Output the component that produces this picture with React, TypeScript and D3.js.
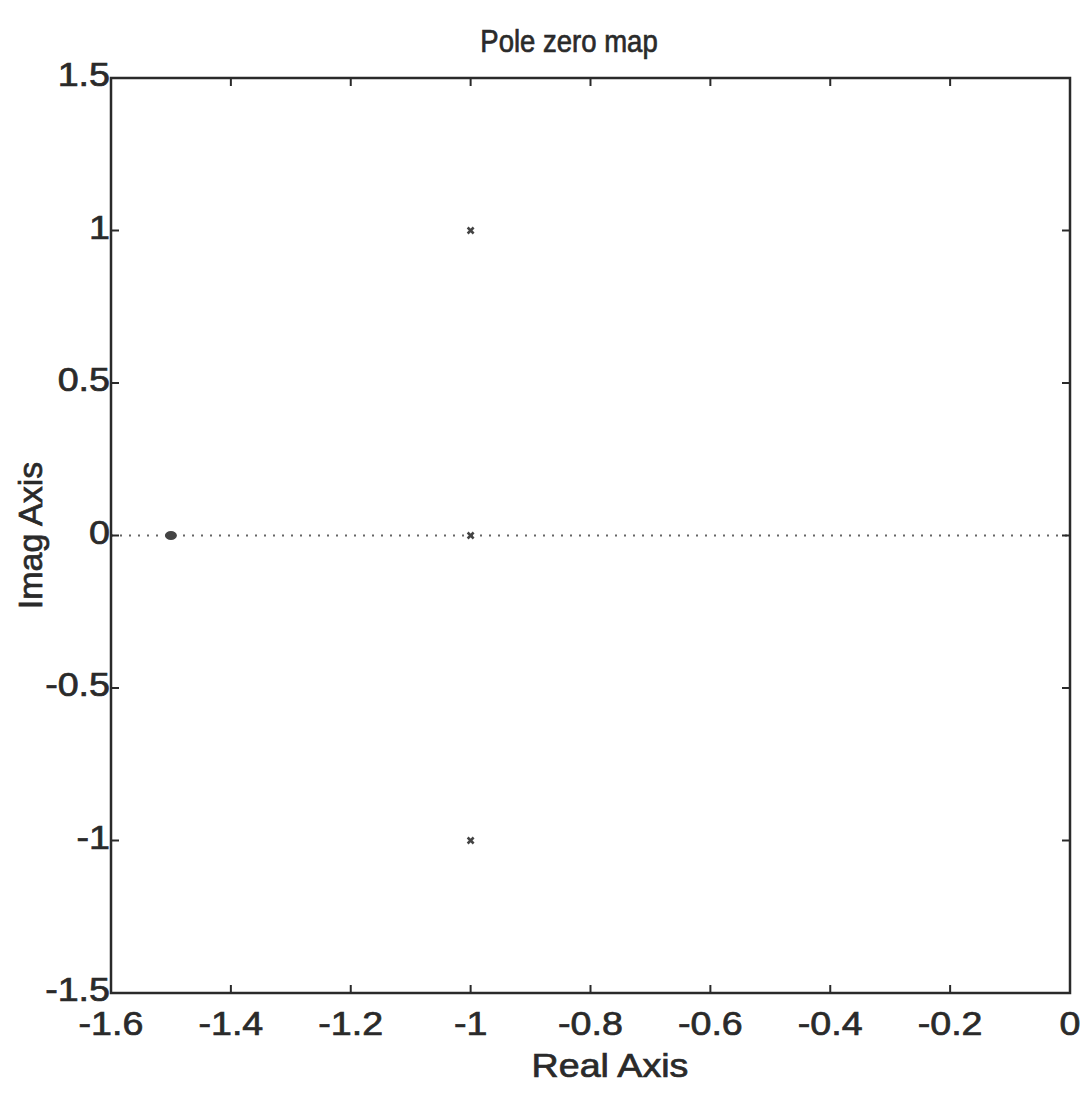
import React from "react";
import * as d3 from "d3";

const xTicks = [-1.6, -1.4, -1.2, -1, -0.8, -0.6, -0.4, -0.2, 0];
const yTicks = [1.5, 1, 0.5, 0, -0.5, -1, -1.5];
const poleRe = [-1, -1, -1];
const poleIm = [1, -1, 0];
const zeroRe = [-1.5];
const zeroIm = [0];

const W = 1084;
const H = 1094;
const M = { left: 111, right: 1070, top: 78, bottom: 993 };
const FONT = "'Liberation Sans', Arial, Helvetica, sans-serif";
const INK = "#2a2a2a";
const SX = 1.14;

function fmt(v: number) {
  if (v === 0) return "0";
  return String(v);
}

export default function App() {
  const x = d3.scaleLinear().domain([-1.6, 0]).range([M.left, M.right]);
  const y = d3.scaleLinear().domain([-1.5, 1.5]).range([M.bottom, M.top]);
  const tl = 8;
  const txt = (props: any, s: string, key?: any) => (
    <text
      key={key}
      transform={`translate(${props.x},${props.y}) scale(${props.sx ?? SX},1)`}
      textAnchor={props.anchor || "middle"}
      fontFamily={FONT}
      fontSize={props.size || 33}
      fill={INK}
      stroke={INK}
      strokeWidth={0.7}
    >
      {s}
    </text>
  );
  const pts = d3.range(zeroRe.length).map((i) => ({ re: zeroRe[i], im: zeroIm[i] }));
  const pls = d3.range(poleRe.length).map((i) => ({ re: poleRe[i], im: poleIm[i] }));
  return (
    <svg width={W} height={H} style={{ position: "absolute", left: 0, top: 0, background: "#fff" }}>
      <rect x={0} y={0} width={W} height={H} fill="#fff" />
      {/* dotted zero line */}
      <line x1={x(-1.6)} x2={x(0)} y1={y(0)} y2={y(0)} stroke="#666" strokeWidth={2} strokeDasharray="2,7" />
      {/* ticks */}
      {xTicks.map((t, i) => (
        <g key={"xt" + i}>
          <line x1={x(t)} x2={x(t)} y1={M.bottom} y2={M.bottom - tl} stroke={INK} strokeWidth={2} />
          <line x1={x(t)} x2={x(t)} y1={M.top} y2={M.top + tl} stroke={INK} strokeWidth={2} />
        </g>
      ))}
      {yTicks.map((t, i) => (
        <g key={"yt" + i}>
          <line x1={M.left} x2={M.left + tl} y1={y(t)} y2={y(t)} stroke={INK} strokeWidth={2} />
          <line x1={M.right} x2={M.right - tl} y1={y(t)} y2={y(t)} stroke={INK} strokeWidth={2} />
        </g>
      ))}
      {/* frame */}
      <rect x={M.left} y={M.top} width={M.right - M.left} height={M.bottom - M.top} fill="none" stroke={INK} strokeWidth={2.5} />
      {/* zeros */}
      {pts.map((p, i) => (
        <ellipse key={"z" + i} cx={x(p.re)} cy={y(p.im)} rx={5} ry={3.5} fill="#444" stroke="#444" strokeWidth={2} />
      ))}
      {/* poles */}
      {pls.map((p, i) => {
        const cx = x(p.re);
        const cy = y(p.im);
        const s = 3;
        return (
          <g key={"p" + i} stroke="#444" strokeWidth={2.5}>
            <line x1={cx - s} y1={cy - s} x2={cx + s} y2={cy + s} />
            <line x1={cx - s} y1={cy + s} x2={cx + s} y2={cy - s} />
          </g>
        );
      })}
      {/* x tick labels */}
      {xTicks.map((t, i) => txt({ x: x(t), y: M.bottom + 42 }, fmt(t), "xl" + i))}
      {/* y tick labels */}
      {yTicks.map((t, i) => txt({ x: M.left - 1, y: y(t) + 8, anchor: "end" }, fmt(t), "yl" + i))}
      {/* title & axis labels */}
      {txt({ x: 569, y: 52, size: 32, sx: 0.86 }, "Pole zero map")}
      {txt({ x: 610, y: 1077 }, "Real Axis")}
      <text
        transform={`translate(42,${y(0)}) rotate(-90)`}
        textAnchor="middle"
        fontFamily={FONT}
        fontSize={34}
        fill={INK}
        stroke={INK}
        strokeWidth={0.7}
      >
        Imag Axis
      </text>
    </svg>
  );
}
